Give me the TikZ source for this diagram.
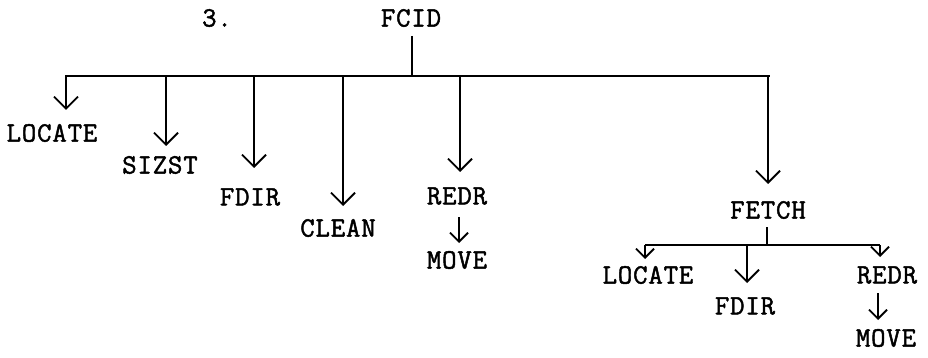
\documentclass[tikz,border=0pt]{standalone}
\usepackage{fontspec}
\newfontfamily\typew[FakeBold=1.6,LetterSpace=3]{Latin Modern Mono}
\usetikzlibrary{arrows.meta}
\begin{document}
\begin{tikzpicture}[x=1pt,y=-1pt,
  lbl/.style={font=\typew\fontsize{28}{28}\selectfont, inner sep=0pt, anchor=center},
  ln/.style={line width=1.8pt},
  arr/.style={ln, -{Straight Barb[length=12pt,width=24pt,line width=1.8pt]}},
  sarr/.style={ln, -{Straight Barb[length=9pt,width=18pt,line width=1.8pt]}}]
\useasboundingbox (0,0) rectangle (928,358);
% top
\node[lbl] (num) at (217,18) {3.};
\node[lbl] (fcid) at (411,18) {FCID};
\coordinate (top) at (412,36);
\coordinate (bl) at (65,76);
\coordinate (br) at (770,76);
\coordinate (b0) at (412,76);
\draw[ln] (bl) -- (br);
\draw[ln] (top) -- (b0);
% children
\node[lbl] (loc) at (52,133) {LOCATE};
\node[lbl] (siz) at (160,165) {SIZST};
\node[lbl] (fdir) at (250,197) {FDIR};
\node[lbl] (clean) at (338,228) {CLEAN};
\node[lbl] (redr) at (457,196) {REDR};
\node[lbl] (move) at (457,260) {MOVE};
\node[lbl] (fetch) at (768,210) {FETCH};
\coordinate (b1) at (66,76);
\coordinate (b2) at (166,76);
\coordinate (b3) at (254,76);
\coordinate (b4) at (343,76);
\coordinate (b5) at (460,76);
\coordinate (b6) at (768,76);
\coordinate (t1) at (66,110);
\coordinate (t2) at (166,146);
\coordinate (t3) at (254,168);
\coordinate (t4) at (343,206);
\coordinate (t5) at (460,172);
\coordinate (t6) at (768,184);
\draw[arr] (b1) -- (t1);
\draw[arr] (b2) -- (t2);
\draw[arr] (b3) -- (t3);
\draw[arr] (b4) -- (t4);
\draw[arr] (b5) -- (t5);
\draw[arr] (b6) -- (t6);
\coordinate (m1) at (459,217);
\coordinate (m1t) at (459,243);
\draw[sarr] (m1) -- (m1t);
% FETCH subtree
\coordinate (fs) at (767,227);
\coordinate (fb) at (767,245);
\coordinate (fbl) at (645,245);
\coordinate (fbr) at (880,245);
\draw[ln] (fs) -- (fb);
\draw[ln] (fbl) -- (fbr);
\node[lbl] (loc2) at (648,275) {LOCATE};
\node[lbl] (fdir2) at (745,306) {FDIR};
\node[lbl] (redr2) at (887,275) {REDR};
\node[lbl] (move2) at (886,338) {MOVE};
\coordinate (c2) at (747,245);
\coordinate (t7) at (645,259);
\coordinate (t8) at (747,283);
\coordinate (t9) at (880,257);
\draw[sarr] (fbl) -- (t7);
\draw[arr] (c2) -- (t8);
\draw[sarr] (fbr) -- (t9);
\coordinate (m2) at (878,293);
\coordinate (m2t) at (878,320);
\draw[sarr] (m2) -- (m2t);
\end{tikzpicture}
\end{document}
